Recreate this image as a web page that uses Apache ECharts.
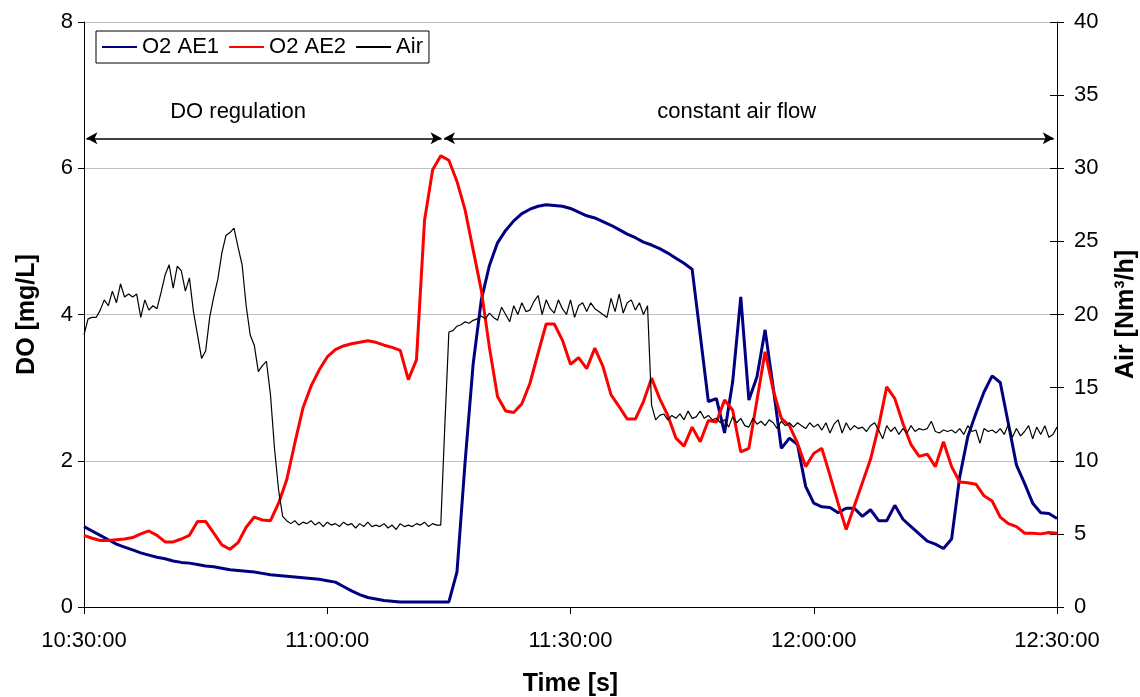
<!DOCTYPE html>
<html>
<head>
<meta charset="utf-8">
<title>DO and air flow</title>
<script src="https://cdn.jsdelivr.net/npm/echarts@6/dist/echarts.min.js"></script>
<style>
  html, body { margin: 0; padding: 0; background: #fff; }
  #chart { width: 1140px; height: 697px; }
</style>
</head>
<body>
<div id="chart"></div>
<script>
// time axis: minutes after 10:30:00, one label every 30 min
var timeTicks = ['10:30:00', '11:00:00', '11:30:00', '12:00:00', '12:30:00'];

// dissolved oxygen [mg/L], one value per minute
var doStepMin = 1;
var o2AE1 = [
  1.10, 1.04, 0.98, 0.92, 0.86, 0.82, 0.78, 0.74, 0.71, 0.68,
  0.66, 0.63, 0.61, 0.60, 0.58, 0.56, 0.55, 0.53, 0.51, 0.50,
  0.49, 0.48, 0.46, 0.44, 0.43, 0.42, 0.41, 0.40, 0.39, 0.38,
  0.36, 0.34, 0.28, 0.22, 0.17, 0.13, 0.11, 0.09, 0.08, 0.07,
  0.07, 0.07, 0.07, 0.07, 0.07, 0.07, 0.48, 1.98, 3.33, 4.20,
  4.67, 4.98, 5.15, 5.28, 5.38, 5.44, 5.48, 5.50, 5.49, 5.48,
  5.45, 5.40, 5.35, 5.32, 5.27, 5.22, 5.16, 5.10, 5.05, 4.99,
  4.95, 4.90, 4.84, 4.77, 4.70, 4.62, 3.72, 2.81, 2.85, 2.38,
  3.08, 4.24, 2.83, 3.15, 3.79, 3.00, 2.17, 2.31, 2.22, 1.65,
  1.42, 1.37, 1.36, 1.29, 1.35, 1.35, 1.24, 1.33, 1.18, 1.18,
  1.39, 1.20, 1.10, 1.00, 0.90, 0.86, 0.80, 0.93, 1.78, 2.33,
  2.65, 2.94, 3.16, 3.07, 2.51, 1.94, 1.69, 1.42, 1.29, 1.28,
  1.21
];
var o2AE2 = [
  0.98, 0.94, 0.91, 0.91, 0.92, 0.93, 0.95, 1.00, 1.04, 0.98,
  0.89, 0.89, 0.93, 0.98, 1.17, 1.17, 1.01, 0.85, 0.79, 0.88,
  1.09, 1.23, 1.19, 1.18, 1.42, 1.74, 2.24, 2.72, 3.02, 3.24,
  3.42, 3.52, 3.57, 3.60, 3.62, 3.64, 3.62, 3.58, 3.55, 3.51,
  3.11, 3.38, 5.29, 5.98, 6.17, 6.11, 5.82, 5.43, 4.88, 4.33,
  3.55, 2.88, 2.68, 2.66, 2.78, 3.06, 3.47, 3.87, 3.87, 3.65,
  3.32, 3.41, 3.26, 3.54, 3.29, 2.90, 2.74, 2.57, 2.57, 2.81,
  3.13, 2.85, 2.62, 2.31, 2.20, 2.46, 2.26, 2.55, 2.53, 2.83,
  2.69, 2.12, 2.17, 2.83, 3.49, 2.97, 2.58, 2.48, 2.24, 1.92,
  2.10, 2.17, 1.80, 1.42, 1.06, 1.38, 1.70, 2.02, 2.47, 3.01,
  2.85, 2.51, 2.22, 2.06, 2.09, 1.92, 2.26, 1.92, 1.71, 1.70,
  1.68, 1.52, 1.45, 1.23, 1.14, 1.10, 1.01, 1.01, 1.00, 1.02,
  1.01
];

// air flow [Nm3/h], one value every 30 s
var airStepMin = 0.5;
var air = [
  18.6, 19.7, 19.8, 19.8, 20.3, 21.0, 20.6, 21.6, 20.8, 22.1, 21.2, 21.4, 21.2, 21.4, 19.8, 21.0, 20.3, 20.6, 20.4, 21.5,
  22.7, 23.4, 21.8, 23.3, 23.0, 21.6, 22.5, 20.2, 18.6, 17.0, 17.5, 19.8, 21.2, 22.4, 24.2, 25.4, 25.6, 25.9, 24.6, 23.4,
  20.6, 18.6, 17.9, 16.1, 16.5, 16.8, 14.5, 10.8, 8.0, 6.2, 5.9, 5.7, 5.9, 5.6, 5.8, 5.7, 5.9, 5.6, 5.8, 5.5,
  5.8, 5.6, 5.7, 5.5, 5.8, 5.6, 5.7, 5.4, 5.7, 5.5, 5.8, 5.5, 5.6, 5.5, 5.7, 5.4, 5.6, 5.3, 5.7, 5.5,
  5.6, 5.5, 5.7, 5.6, 5.8, 5.5, 5.7, 5.6, 5.6, 12.4, 18.8, 18.9, 19.2, 19.3, 19.5, 19.4, 19.6, 19.7, 19.9, 19.7,
  20.1, 19.8, 19.6, 20.5, 20.0, 19.5, 20.6, 20.0, 20.8, 20.2, 20.3, 20.9, 21.3, 20.0, 21.0, 20.4, 20.1, 21.0, 20.4, 20.0,
  21.0, 19.8, 20.6, 20.8, 20.2, 20.8, 20.4, 20.2, 20.0, 19.8, 21.1, 20.2, 21.4, 20.1, 20.8, 21.0, 20.3, 20.8, 20.0, 20.6,
  13.8, 12.8, 13.1, 13.2, 12.8, 13.1, 12.9, 13.2, 12.8, 13.4, 12.9, 13.0, 13.4, 12.9, 13.1, 12.8, 12.9, 12.6, 12.8, 12.3,
  13.0, 12.6, 12.9, 12.4, 12.3, 12.9, 12.5, 12.7, 12.4, 12.8, 12.6, 12.2, 12.7, 12.4, 12.6, 12.3, 12.6, 12.4, 12.2, 12.6,
  12.3, 12.5, 12.1, 12.6, 11.9, 12.5, 12.8, 11.9, 12.6, 12.1, 12.4, 12.2, 12.3, 12.0, 12.4, 12.6, 12.1, 11.5, 12.4, 12.0,
  12.3, 11.8, 12.2, 11.9, 12.4, 12.0, 12.2, 12.1, 12.2, 12.7, 12.0, 11.9, 12.1, 12.0, 12.1, 11.9, 12.2, 11.8, 12.4, 12.0,
  12.1, 11.2, 12.2, 12.0, 12.1, 11.9, 12.2, 11.8, 12.5, 11.6, 12.2, 11.7, 12.0, 12.4, 11.5, 12.3, 11.8, 12.4, 11.6, 11.8,
  12.3
];

function toPoints(values, step) {
  return values.map(function (v, i) { return [i * step, v]; });
}

var FONT = "'Liberation Sans', Arial, sans-serif";
var chart = echarts.init(document.getElementById('chart'), null, { renderer: 'canvas' });

chart.setOption({
  animation: false,
  backgroundColor: '#fff',
  textStyle: { fontFamily: FONT, color: '#000' },
  grid: {
    left: 84, right: 83, top: 22, bottom: 90,
    containLabel: false,
    outerBoundsMode: 'none'
  },
  legend: {
    left: 96,
    top: 31,
    orient: 'horizontal',
    data: ['O2 AE1', 'O2 AE2', 'Air'],
    backgroundColor: '#fff',
    borderColor: '#000',
    borderWidth: 1,
    borderRadius: 0,
    padding: [5, 6, 5, 5],
    itemGap: 9,
    itemWidth: 35,
    itemHeight: 14,
    itemStyle: { opacity: 0 },
    textStyle: { fontFamily: FONT, fontSize: 22, color: '#000' }
  },
  xAxis: {
    type: 'value',
    min: 0,
    max: 120,
    interval: 30,
    name: 'Time [s]',
    nameLocation: 'middle',
    nameGap: 65,
    nameTextStyle: { fontFamily: FONT, fontSize: 25, fontWeight: 'bold', color: '#000' },
    axisLine: { onZero: false, lineStyle: { color: '#000', width: 1 } },
    axisTick: { length: 7, lineStyle: { color: '#000' } },
    axisLabel: {
      margin: 23,
      fontFamily: FONT,
      fontSize: 22,
      color: '#000',
      formatter: function (v) { return timeTicks[Math.round(v / 30)]; }
    },
    splitLine: { show: false }
  },
  yAxis: [
    {
      type: 'value',
      position: 'left',
      min: 0,
      max: 8,
      interval: 2,
      name: 'DO [mg/L]',
      nameLocation: 'middle',
      nameRotate: 90,
      nameGap: 44,
      nameTextStyle: { fontFamily: FONT, fontSize: 25, fontWeight: 'bold', color: '#000' },
      axisLine: { show: true, lineStyle: { color: '#000', width: 1 } },
      axisTick: { show: true, length: 6, lineStyle: { color: '#000' } },
      axisLabel: { margin: 11, fontFamily: FONT, fontSize: 22, color: '#000' },
      splitLine: { show: true, lineStyle: { color: '#c0c0c0', width: 1 } }
    },
    {
      type: 'value',
      position: 'right',
      min: 0,
      max: 40,
      interval: 5,
      name: 'Air [Nm³/h]',
      nameLocation: 'middle',
      nameRotate: 90,
      nameGap: 57,
      nameTextStyle: { fontFamily: FONT, fontSize: 25, fontWeight: 'bold', color: '#000' },
      axisLine: { show: true, lineStyle: { color: '#000', width: 1 } },
      axisTick: { show: true, length: 7, lineStyle: { color: '#000' } },
      axisLabel: { margin: 17, fontFamily: FONT, fontSize: 22, color: '#000' },
      splitLine: { show: false }
    },
    {
      // inner half of the crossing ticks on the right axis
      type: 'value',
      position: 'right',
      min: 0,
      max: 40,
      interval: 5,
      axisLine: { show: false },
      axisTick: { show: true, inside: true, length: 7, lineStyle: { color: '#000' } },
      axisLabel: { show: false },
      splitLine: { show: false }
    }
  ],
  series: [
    {
      name: 'O2 AE1',
      type: 'line',
      yAxisIndex: 0,
      symbol: 'none',
      lineStyle: { color: '#000080', width: 3 },
      itemStyle: { color: '#000080' },
      data: toPoints(o2AE1, doStepMin),
      markLine: {
        silent: true,
        symbol: ['arrow', 'arrow'],
        symbolSize: [9, 11],
        lineStyle: { color: '#000', width: 1.5, type: 'solid' },
        label: { show: false },
        data: [
          [{ coord: [0.3, 6.41] }, { coord: [44.1, 6.41] }],
          [{ coord: [44.4, 6.41] }, { coord: [119.6, 6.41] }]
        ]
      },
      markPoint: {
        silent: true,
        symbol: 'rect',
        symbolSize: 0,
        label: {
          show: true,
          position: 'inside',
          formatter: '{b}',
          fontFamily: FONT,
          fontSize: 22,
          color: '#000'
        },
        data: [
          { name: 'DO regulation', coord: [19.0, 6.77], value: 0 },
          { name: 'constant air flow', coord: [80.5, 6.77], value: 0 }
        ]
      }
    },
    {
      name: 'O2 AE2',
      type: 'line',
      yAxisIndex: 0,
      symbol: 'none',
      lineStyle: { color: '#ff0000', width: 3 },
      itemStyle: { color: '#ff0000' },
      data: toPoints(o2AE2, doStepMin)
    },
    {
      name: 'Air',
      type: 'line',
      yAxisIndex: 1,
      symbol: 'none',
      lineStyle: { color: '#000', width: 1.2 },
      itemStyle: { color: '#000' },
      data: toPoints(air, airStepMin)
    }
  ]
});
</script>
</body>
</html>
